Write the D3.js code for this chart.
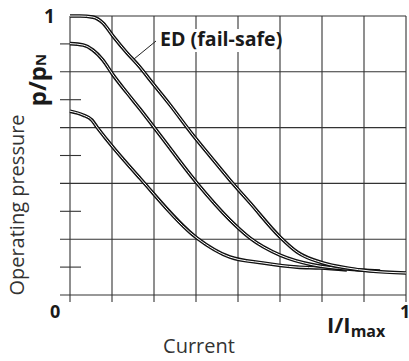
<!DOCTYPE html>
<html>
<head>
<meta charset="utf-8">
<script src="https://cdn.jsdelivr.net/npm/d3@7"></script>
<style>
  html, body { margin: 0; padding: 0; background: #fff; }
  svg { display: block; font-family: "Open Sans", sans-serif; }
</style>
</head>
<body>
<svg id="chart" width="409" height="361"></svg>
<script>
// curves: [I/Imax, p/pN]
const edCurve = [
  [0, 1.0], [0.03, 1.0], [0.068, 0.996], [0.098, 0.975], [0.128, 0.928],
  [0.17, 0.867], [0.208, 0.817], [0.238, 0.771], [0.298, 0.681], [0.366, 0.573],
  [0.417, 0.498], [0.476, 0.412], [0.536, 0.33], [0.625, 0.208], [0.676, 0.154],
  [0.753, 0.115], [0.824, 0.097], [0.893, 0.086], [1.0, 0.079]
];
const midCurve = [
  [0, 0.901], [0.039, 0.896], [0.068, 0.878], [0.098, 0.842], [0.128, 0.789],
  [0.17, 0.724], [0.208, 0.667], [0.268, 0.573], [0.378, 0.401], [0.476, 0.269],
  [0.536, 0.204], [0.625, 0.143], [0.723, 0.108], [0.824, 0.093], [0.923, 0.086]
];
const lowCurve = [
  [0, 0.659], [0.039, 0.645], [0.065, 0.627], [0.08, 0.602], [0.11, 0.556],
  [0.208, 0.419], [0.378, 0.204], [0.476, 0.136], [0.574, 0.115], [0.676, 0.1],
  [0.744, 0.097], [0.824, 0.09]
];
const xTicks = d3.range(0, 9).map(i => i / 8);
const yMajor = [0, 0.2, 0.4, 0.6, 0.8, 1];
const yMinor = [0.1, 0.3, 0.5, 0.7, 0.9];
const edLabel = "ED (fail-safe)";

const svg = d3.select("#chart");
const x = d3.scaleLinear().domain([0, 1]).range([70, 406]);
const y = d3.scaleLinear().domain([0, 1]).range([295, 16]);
const gridColor = "#333";

// grid - vertical lines run a bit below the axis as ticks
svg.append("g")
  .selectAll("line")
  .data(xTicks)
  .join("line")
  .attr("x1", d => x(d)).attr("x2", d => x(d))
  .attr("y1", y(1)).attr("y2", y(0) + 7)
  .attr("stroke", gridColor).attr("stroke-width", 1.1);

svg.append("g")
  .selectAll("line")
  .data(yMajor)
  .join("line")
  .attr("x1", d => d === 1 ? x(0) : x(0) - 10).attr("x2", x(1))
  .attr("y1", d => y(d)).attr("y2", d => y(d))
  .attr("stroke", gridColor).attr("stroke-width", 1.1);

svg.append("g")
  .selectAll("line")
  .data(yMinor)
  .join("line")
  .attr("x1", x(0) - 10).attr("x2", x(0) + 11)
  .attr("y1", d => y(d)).attr("y2", d => y(d))
  .attr("stroke", gridColor).attr("stroke-width", 1.1);

// double-line curves
const line = d3.line().x(d => x(d[0])).y(d => y(d[1])).curve(d3.curveMonotoneX);
const curves = svg.append("g");
[lowCurve, midCurve, edCurve].forEach(c => {
  curves.append("path").attr("d", line(c))
    .attr("fill", "none").attr("stroke", "#111").attr("stroke-width", 3.6);
  curves.append("path").attr("d", line(c))
    .attr("fill", "none").attr("stroke", "#fff").attr("stroke-width", 1);
});

// label with leader
svg.append("line")
  .attr("x1", 134).attr("y1", 59).attr("x2", 156).attr("y2", 41)
  .attr("stroke", "#222").attr("stroke-width", 1);
svg.append("rect")
  .attr("x", 157).attr("y", 29).attr("width", 122).attr("height", 23)
  .attr("fill", "#fff");
svg.append("text")
  .attr("x", 160).attr("y", 46)
  .attr("font-size", 19.6).attr("font-weight", "bold").attr("fill", "#1a1a1a")
  .text(edLabel);

// axis numbers
svg.append("text").attr("x", 44).attr("y", 23)
  .attr("font-size", 19).attr("font-weight", "bold").attr("fill", "#1a1a1a").text("1");
svg.append("text").attr("x", 50).attr("y", 318)
  .attr("font-size", 18).attr("font-weight", "bold").attr("fill", "#1a1a1a").text("0");
svg.append("text").attr("x", 400).attr("y", 318)
  .attr("font-size", 18).attr("font-weight", "bold").attr("fill", "#1a1a1a").text("1");

// I/Imax
const xl = svg.append("text").attr("x", 327).attr("y", 333)
  .attr("font-weight", "bold").attr("fill", "#1a1a1a");
xl.append("tspan").attr("font-size", 22).text("I/I");
xl.append("tspan").attr("font-size", 16).attr("dy", 4).text("max");

// p/pN
const yl = svg.append("text")
  .attr("transform", "translate(46,80) rotate(-90)")
  .attr("text-anchor", "middle").attr("font-weight", "bold").attr("fill", "#1a1a1a");
yl.append("tspan").attr("font-size", 24).text("p/p");
yl.append("tspan").attr("font-size", 15).text("N");

svg.append("text")
  .attr("transform", "translate(24,205) rotate(-90)")
  .attr("text-anchor", "middle").attr("font-size", 20).attr("fill", "#333")
  .text("Operating pressure");

svg.append("text")
  .attr("x", 199).attr("y", 353)
  .attr("text-anchor", "middle").attr("font-size", 20).attr("fill", "#333")
  .text("Current");
</script>
</body>
</html>
